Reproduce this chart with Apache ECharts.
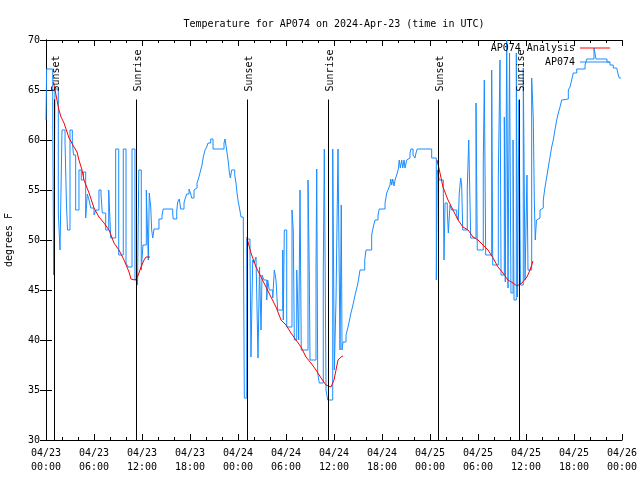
<!DOCTYPE html>
<html><head><meta charset="utf-8">
<script src="https://cdn.jsdelivr.net/npm/echarts/dist/echarts.min.js"></script>
<style>html,body{margin:0;padding:0;background:#fff}#c{width:640px;height:480px}</style>
</head><body><div id="c"></div>
<script>
// ---- text ----
const titleText = 'Temperature for AP074 on 2024-Apr-23 (time in UTC)';
const yAxisName = 'degrees F';
const analysisName = 'AP074 Analysis';
const obsName = 'AP074';
const baseDay = 23; // hours are counted from 04/23 00:00 UTC

// ---- sunrise / sunset (hours from 04/23 00:00) ----
const sunTimes = [1.0, 11.29, 25.08, 35.29, 49.04, 59.16];
const sunLabels = ['Sunset', 'Sunrise', 'Sunset', 'Sunrise', 'Sunset', 'Sunrise'];
const sunLineTop = 64.05;

// ---- observed AP074 temperature, [hour, degF] ----
const obsNight1 = [[0.00,62.0],[0.08,67.1],[0.84,61.8],[0.96,46.5],[1.12,65.1],[1.54,52.7],[1.75,49.0],[2.00,61.0],[2.38,59.8],[2.56,53.5],[2.69,51.0],[3.00,61.0],[3.29,59.8],[3.44,58.5],[3.71,53.0],[4.12,57.0],[4.41,56.0],[4.69,56.8],[4.96,52.2],[5.16,54.6],[5.38,54.0],[5.59,53.2],[6.00,52.5],[6.25,53.0],[6.62,55.0],[6.88,54.5],[7.04,52.7],[7.46,51.0],[7.84,55.0],[8.09,50.2],[8.71,59.1],[9.09,48.5],[9.66,59.1],[10.00,47.7],[10.25,47.3],[10.75,59.1],[11.12,46.0],[11.44,45.5],[11.60,57.0],[11.91,47.0],[12.12,49.5],[12.54,55.0],[12.79,48.0],[12.91,54.7],[13.09,53.3],[13.21,51.0],[13.34,50.2]];
const obsDay1 = [[13.50,51.1],[14.12,52.1],[14.50,52.5],[14.66,53.1],[15.84,52.6],[15.91,52.1],[16.34,52.9],[16.46,53.8],[16.66,54.1],[16.84,53.1],[17.25,53.7],[17.38,54.1],[17.59,54.6],[17.88,55.1],[18.09,54.6],[18.21,54.2],[18.50,55.0],[18.62,55.2],[18.88,55.7],[19.12,56.3],[19.34,57.0],[19.50,57.5],[19.66,58.3],[19.88,59.0],[20.09,59.3],[20.25,59.7],[20.59,60.1],[20.88,59.1],[22.25,59.7],[22.38,60.1],[22.62,58.8],[22.79,57.8],[22.91,56.8],[23.04,56.2],[23.21,57.0],[23.59,56.5],[23.75,55.7],[23.91,54.5],[24.04,53.8],[24.16,53.3],[24.38,52.3],[24.66,52.1]];
const obsNight2 = [[24.79,34.2],[25.09,50.1],[25.50,49.0],[25.62,38.3],[25.84,48.0],[26.00,47.7],[26.25,48.3],[26.50,38.2],[26.69,47.3],[26.88,41.0],[27.00,46.5],[27.25,46.0],[27.59,44.0],[27.71,46.0],[27.91,45.0],[28.34,44.2],[28.54,47.0],[28.75,46.0],[28.96,43.0],[29.59,49.0],[29.66,42.0],[29.79,51.0],[30.09,41.3],[30.75,53.0],[30.91,51.0],[31.04,40.0],[31.34,47.0],[31.59,40.0],[31.75,55.0],[31.91,39.0],[32.75,56.0],[32.91,47.0],[33.00,38.0],[33.75,47.0],[33.84,57.1],[33.96,36.7],[34.16,35.7],[34.66,46.7],[34.79,59.1],[35.00,35.0],[35.21,34.0],[35.84,59.1],[36.04,37.0],[36.25,44.0],[36.50,59.1],[36.75,39.0],[36.91,53.5],[37.00,39.0],[37.12,39.8]];
const obsDay2 = [[37.50,40.5],[37.75,41.3],[37.94,42.0],[38.12,42.7],[38.31,43.3],[38.50,44.0],[38.69,44.7],[38.88,45.3],[39.06,46.0],[39.25,47.0],[39.84,48.0],[40.00,49.0],[40.71,50.5],[40.91,51.3],[41.12,52.0],[41.50,52.5],[41.66,53.1],[42.38,53.7],[42.59,54.7],[42.79,55.1],[43.00,55.5],[43.09,56.1],[43.21,55.5],[43.34,56.1],[43.50,55.4],[43.66,56.1],[43.84,56.5],[44.04,57.1],[44.16,58.0],[44.29,57.2],[44.46,58.0],[44.59,57.2],[44.75,58.0],[44.88,57.2],[45.09,58.0],[45.29,58.2],[45.50,58.7],[45.62,59.1],[45.88,58.5],[46.12,58.2],[46.25,58.7],[46.41,59.1],[48.21,58.2]];
const obsNight3 = [[48.79,46.0],[48.91,57.0],[49.16,56.0],[49.66,55.3],[49.75,48.0],[49.88,53.7],[50.16,53.0],[50.29,50.7],[50.50,53.5],[50.71,53.0],[51.34,52.5],[51.54,52.0],[51.66,54.7],[51.84,56.2],[51.96,55.5],[52.09,51.0],[52.66,55.2],[52.84,60.0],[53.09,50.2],[53.75,63.7],[53.91,49.0],[54.66,57.7],[54.79,66.0],[54.96,48.5],[55.71,67.0],[55.84,47.5],[56.54,56.3],[56.75,68.0],[56.88,46.5],[57.29,62.3],[57.41,45.8],[57.59,70.0],[57.75,45.2],[57.94,68.7],[58.12,44.7],[58.38,60.0],[58.50,44.0],[58.79,68.7],[58.94,44.3],[59.12,64.0],[59.31,45.5],[59.66,67.2],[59.88,46.0],[60.12,56.5],[60.25,47.0],[60.71,66.2],[60.91,62.2],[61.04,54.0]];
const obsDay3 = [[61.16,50.0],[61.31,52.0],[61.54,52.2],[61.75,53.0],[61.96,53.2],[62.16,54.0],[62.38,55.3],[62.59,56.3],[62.79,57.3],[63.00,58.3],[63.21,59.3],[63.41,60.0],[63.62,61.0],[63.84,62.0],[64.04,62.7],[64.25,63.3],[64.46,64.0],[64.66,64.1],[65.29,65.0],[65.50,65.3],[65.71,66.0],[65.91,66.7],[66.34,67.1],[67.38,67.5],[67.59,68.1],[68.50,69.2],[68.75,68.1],[70.12,67.8],[70.50,67.5],[70.91,67.2],[71.34,67.0],[71.54,66.5],[71.66,66.2],[71.88,66.2]];

// ---- analysis (night-time only), [hour, degF] ----
const analysisNight1 = [[0.95,65.8],[1.00,65.5],[1.25,64.5],[1.62,63.0],[1.88,62.3],[2.25,61.7],[2.88,60.2],[3.50,59.3],[3.88,58.8],[4.12,58.0],[4.50,57.0],[4.75,56.0],[5.38,54.7],[6.00,53.2],[6.62,52.3],[7.25,51.7],[7.88,51.0],[8.50,49.7],[9.12,49.0],[9.75,48.0],[10.38,46.8],[10.62,46.1],[11.12,46.0],[11.38,46.2],[11.62,46.7],[11.88,47.3],[12.25,48.0],[12.50,48.3],[12.75,48.1],[13.00,48.3]];
const analysisNight2 = [[25.09,50.3],[25.62,48.7],[26.25,47.3],[26.88,46.3],[27.50,45.3],[28.12,44.3],[28.75,43.3],[29.38,42.0],[30.00,41.5],[30.62,40.7],[31.25,40.0],[31.88,39.3],[32.50,38.3],[33.12,37.7],[33.75,37.0],[34.38,36.2],[35.00,35.5],[35.62,35.3],[36.00,36.0],[36.25,37.0],[36.50,38.0],[36.88,38.3],[37.12,38.4]];
const analysisNight3 = [[48.88,58.0],[49.25,56.7],[49.62,55.3],[50.25,54.0],[50.88,53.0],[51.50,52.0],[52.12,51.3],[52.75,51.0],[53.38,50.3],[54.00,50.0],[54.62,49.5],[55.25,49.0],[55.88,48.2],[56.50,47.3],[57.12,46.7],[57.75,46.0],[58.38,45.7],[58.88,45.4],[59.50,45.7],[60.12,46.3],[60.50,47.0],[60.88,47.9]];

// ---- axes ----
const xMin = 0, xMax = 72, xStep = 6;
const yMin = 30, yMax = 70, yStep = 5;

const FONT = "'DejaVu Sans Mono', 'Liberation Mono', monospace";
const BLUE = '#1a8cff';
const RED = '#ff0000';

const obsData = [].concat(obsNight1, obsDay1, obsNight2, obsDay2, obsNight3, obsDay3);
const analysisData = [].concat(analysisNight1, [[13.2, null]], analysisNight2, [[37.3, null]], analysisNight3);

function pad(n) { return (n < 10 ? '0' : '') + n; }
function hourLabel(v) {
  const d = baseDay + Math.floor(v / 24);
  const h = Math.round(v % 24);
  return '04/' + pad(d) + '\n' + pad(h) + ':00';
}

const tickStyle = { color: '#000', width: 1 };
const chart = echarts.init(document.getElementById('c'), null, { renderer: 'canvas' });
chart.setOption({
  animation: false,
  backgroundColor: '#fff',
  title: {
    text: titleText, left: 329, top: 14, textAlign: 'center',
    textStyle: { fontFamily: FONT, fontSize: 10, fontWeight: 'normal', color: '#000' }
  },
  grid: { left: 46, right: 18, top: 40, bottom: 40, outerBoundsMode: 'none' },
  legend: [
    { data: [analysisName], right: 30, top: 43, padding: 0, align: 'right', icon: 'rect',
      itemWidth: 30, itemHeight: 1, selectedMode: false,
      textStyle: { fontFamily: FONT, fontSize: 10, color: '#000' } },
    { data: [obsName], right: 30, top: 57, padding: 0, align: 'right', icon: 'rect',
      itemWidth: 30, itemHeight: 1, selectedMode: false,
      textStyle: { fontFamily: FONT, fontSize: 10, color: '#000' } }
  ],
  xAxis: [
    { type: 'value', min: xMin, max: xMax, interval: xStep, position: 'bottom',
      axisLine: { show: true, lineStyle: tickStyle },
      axisTick: { show: true, inside: true, length: 6, lineStyle: tickStyle },
      minorTick: { show: true, splitNumber: 3, length: 3, lineStyle: tickStyle },
      splitLine: { show: false },
      axisLabel: { formatter: hourLabel, color: '#000', fontFamily: FONT, fontSize: 10, lineHeight: 14, margin: 6, showMinLabel: true, showMaxLabel: true, hideOverlap: false } },
    { type: 'value', min: xMin, max: xMax, interval: xStep, position: 'top',
      axisLine: { show: true, lineStyle: tickStyle },
      axisTick: { show: true, inside: true, length: 6, lineStyle: tickStyle },
      minorTick: { show: true, splitNumber: 3, length: 3, lineStyle: tickStyle },
      splitLine: { show: false }, axisLabel: { show: false } }
  ],
  yAxis: [
    { type: 'value', min: yMin, max: yMax, interval: yStep, position: 'left',
      name: yAxisName, nameLocation: 'middle', nameGap: 32, nameRotate: 90,
      nameTextStyle: { fontFamily: FONT, fontSize: 10, color: '#000' },
      axisLine: { show: true, lineStyle: tickStyle },
      axisTick: { show: true, inside: true, length: 6, lineStyle: tickStyle },
      splitLine: { show: false },
      axisLabel: { color: '#000', fontFamily: FONT, fontSize: 10, margin: 6, showMinLabel: true, showMaxLabel: true } },
    { type: 'value', min: yMin, max: yMax, interval: yStep, position: 'right',
      axisLine: { show: true, lineStyle: tickStyle },
      axisTick: { show: true, inside: true, length: 6, lineStyle: tickStyle },
      splitLine: { show: false }, axisLabel: { show: false } }
  ],
  series: [
    { name: analysisName, type: 'line', xAxisIndex: 0, yAxisIndex: 0, data: analysisData,
      showSymbol: false, symbol: 'none', connectNulls: false, z: 4,
      lineStyle: { color: RED, width: 1 }, itemStyle: { color: RED } },
    { name: obsName, type: 'line', xAxisIndex: 0, yAxisIndex: 0, data: obsData, step: 'end',
      showSymbol: false, symbol: 'none', z: 3,
      lineStyle: { color: BLUE, width: 1 }, itemStyle: { color: BLUE } },
    { name: 'sun', type: 'custom', xAxisIndex: 0, yAxisIndex: 0, z: 5,
      data: sunTimes.map(function (t) { return [t, yMin]; }),
      renderItem: function (params, api) {
        const t = api.value(0);
        const p0 = api.coord([t, yMin]);
        const p1 = api.coord([t, sunLineTop]);
        const x = Math.round(p0[0]) + 0.5;
        return { type: 'group', children: [
          { type: 'line', shape: { x1: x, y1: p0[1], x2: x, y2: p1[1] },
            style: { stroke: '#000', lineWidth: 1 } },
          { type: 'text', x: x + 2, y: p1[1] - 8, rotation: Math.PI / 2,
            style: { text: sunLabels[params.dataIndex], fill: '#000', font: '10px ' + FONT,
                     align: 'left', verticalAlign: 'middle' } }
        ] };
      } }
  ]
});
</script></body></html>
